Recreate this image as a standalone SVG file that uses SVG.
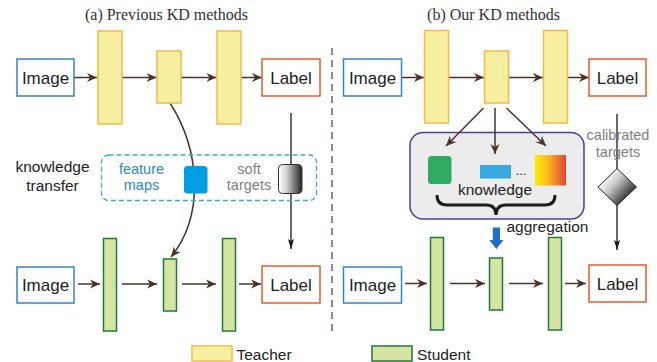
<svg xmlns="http://www.w3.org/2000/svg" width="657" height="362" viewBox="0 0 657 362">
<defs>
<marker id="ab" markerWidth="11" markerHeight="10" refX="10" refY="5" orient="auto" markerUnits="userSpaceOnUse"><path d="M0,0.5 L10,5 L0,9.5 L3,5 z" fill="#4a3428"/></marker>
<marker id="ak" markerWidth="11" markerHeight="8" refX="10" refY="4" orient="auto" markerUnits="userSpaceOnUse"><path d="M0,1 L10,4 L0,7 L2,4 z" fill="#1a1a1a"/></marker>
<linearGradient id="gbw" x1="0" y1="0" x2="1" y2="0"><stop offset="0" stop-color="#ffffff"/><stop offset="0.35" stop-color="#d0d0d0"/><stop offset="1" stop-color="#222222"/></linearGradient>
<linearGradient id="gd" x1="0.2" y1="0.2" x2="0.9" y2="0.8"><stop offset="0" stop-color="#ffffff"/><stop offset="0.35" stop-color="#c8c8c8"/><stop offset="1" stop-color="#111111"/></linearGradient>
<linearGradient id="gyr" x1="0" y1="0" x2="1" y2="0"><stop offset="0" stop-color="#ffee00"/><stop offset="0.45" stop-color="#f9b420"/><stop offset="1" stop-color="#e6403a"/></linearGradient>
</defs>
<style>
.t{fill:#f7f0a2;stroke:#f6b94a;stroke-width:1.5}
.s{fill:#d5e4a2;stroke:#1f7a3c;stroke-width:1.5}
.img{fill:#fff;stroke:#3a82c4;stroke-width:1.5}
.lbl{fill:#fff;stroke:#ec5a2d;stroke-width:1.5}
.tx{font-family:"Liberation Sans",Arial,sans-serif;fill:#222}
.big{font-size:17px}
.mid{font-size:15.5px}
.ttl{font-family:"Liberation Serif","Times New Roman",serif;font-size:16px;fill:#333}
.a{stroke:#4a3428;stroke-width:1.5;fill:none;marker-end:url(#ab)}
.k{stroke:#1a1a1a;stroke-width:1.3;fill:none;marker-end:url(#ak)}
.gray{fill:#7f7f7f}
</style>

<text class="ttl" x="166.5" y="20" text-anchor="middle">(a) Previous KD methods</text>
<text class="ttl" x="493.5" y="20" text-anchor="middle">(b) Our KD methods</text>

<line x1="332" y1="48" x2="332" y2="331" stroke="#5a4a40" stroke-width="1.3" stroke-dasharray="7,5"/>

<g id="connectors">
<line class="a" x1="74" y1="77.5" x2="97" y2="77.5"/>
<line class="a" x1="122" y1="77.5" x2="156.5" y2="77.5"/>
<line class="a" x1="181" y1="77.5" x2="216.5" y2="77.5"/>
<line class="a" x1="241" y1="77.5" x2="262" y2="77.5"/>
<line class="a" x1="78" y1="284" x2="100" y2="284"/>
<line class="a" x1="122" y1="284" x2="157" y2="284"/>
<line class="a" x1="182" y1="284" x2="216" y2="284"/>
<line class="a" x1="239" y1="284" x2="261" y2="284"/>
<path class="a" d="M170,103 C200,150 205,215 171,257"/>
<line class="k" x1="291" y1="113" x2="291" y2="249"/>

<line class="a" x1="402" y1="77.5" x2="424" y2="77.5"/>
<line class="a" x1="449" y1="77.5" x2="484" y2="77.5"/>
<line class="a" x1="508" y1="77.5" x2="543" y2="77.5"/>
<line class="a" x1="567" y1="77.5" x2="589" y2="77.5"/>
<line class="a" x1="405" y1="283.5" x2="427" y2="283.5"/>
<line class="a" x1="450" y1="283.5" x2="485" y2="283.5"/>
<line class="a" x1="509" y1="283.5" x2="543" y2="283.5"/>
<line class="a" x1="565" y1="283.5" x2="586" y2="283.5"/>
<line class="k" x1="617" y1="114" x2="617" y2="250"/>
</g>

<g id="a-image-t"><rect class="img" x="17" y="59" width="57" height="37"/><text class="tx big" x="45.5" y="83.5" text-anchor="middle">Image</text></g>
<g id="a-t1"><rect class="t" x="98" y="31" width="24" height="93"/></g>
<g id="a-t2"><rect class="t" x="157" y="51" width="24" height="52"/></g>
<g id="a-t3"><rect class="t" x="217" y="31" width="24" height="93"/></g>
<g id="a-label-t"><rect class="lbl" x="262" y="59" width="58" height="37"/><text class="tx big" x="291" y="84" text-anchor="middle">Label</text></g>

<g id="a-transfer">
<text class="tx mid" x="52.5" y="172" text-anchor="middle">knowledge</text>
<text class="tx mid" x="52.5" y="190.5" text-anchor="middle">transfer</text>
<rect x="101.5" y="155" width="215" height="45.5" rx="7" fill="none" stroke="#3aa8dc" stroke-width="1.3" stroke-dasharray="5,3"/>
<text class="tx" x="141.5" y="173.5" text-anchor="middle" font-size="14.5" style="fill:#2f86c8">feature</text>
<text class="tx" x="141.5" y="189.5" text-anchor="middle" font-size="14.5" style="fill:#2f86c8">maps</text>
<rect x="184" y="166" width="23.5" height="27.5" rx="3.5" fill="#009fe3"/>
<text class="tx gray" x="249" y="173.5" text-anchor="middle" font-size="14.5">soft</text>
<text class="tx gray" x="249" y="189.5" text-anchor="middle" font-size="14.5">targets</text>
<rect x="278.5" y="164.5" width="23.5" height="29" rx="4" fill="url(#gbw)" stroke="#333" stroke-width="1"/>
</g>

<g id="a-image-s"><rect class="img" x="17" y="267" width="57" height="36"/><text class="tx big" x="45.5" y="291" text-anchor="middle">Image</text></g>
<g id="a-s1"><rect class="s" x="103.5" y="238.5" width="13" height="92.5"/></g>
<g id="a-s2"><rect class="s" x="163.5" y="259" width="13" height="52"/></g>
<g id="a-s3"><rect class="s" x="222.5" y="238.5" width="13" height="92.5"/></g>
<g id="a-label-s"><rect class="lbl" x="262" y="266" width="58" height="37"/><text class="tx big" x="291" y="291" text-anchor="middle">Label</text></g>

<g id="b-image-t"><rect class="img" x="343.5" y="59" width="58" height="37"/><text class="tx big" x="372.5" y="83.5" text-anchor="middle">Image</text></g>
<g id="b-t1"><rect class="t" x="424.5" y="30.5" width="24" height="92.5"/></g>
<g id="b-t2"><rect class="t" x="484.5" y="51" width="24" height="52"/></g>
<g id="b-t3"><rect class="t" x="543.5" y="30.5" width="24" height="92.5"/></g>
<g id="b-label-t"><rect class="lbl" x="589" y="59" width="57" height="37"/><text class="tx big" x="617.5" y="84" text-anchor="middle">Label</text></g>

<g id="b-aggregation">
<rect x="410" y="132.5" width="174" height="86.5" rx="13" fill="#ececec" stroke="#4b3f9b" stroke-width="1.5"/>
<line class="a" x1="483.5" y1="108" x2="446" y2="146"/>
<line class="a" x1="495" y1="108" x2="495" y2="154"/>
<line class="a" x1="506.5" y1="108" x2="546" y2="146"/>
<rect x="428" y="156" width="23.5" height="28" rx="3.5" fill="#2faa62"/>
<rect x="480" y="165" width="31" height="13.5" fill="#35a8e0"/>
<text class="tx" x="521" y="175" text-anchor="middle" font-size="13">...</text>
<rect x="535" y="155" width="31" height="30.5" fill="url(#gyr)"/>
<text class="tx mid" x="495" y="195" text-anchor="middle">knowledge</text>
<path d="M437,195 Q437,205 447,205 L486,205 Q496,205 496,215 Q496,205 506,205 L545,205 Q555,205 555,195" fill="none" stroke="#1e1e1e" stroke-width="3"/>
<path d="M492.8,227.5 L500,227.5 L500,240 L503.5,240 L496.4,249 L489.3,240 L492.8,240 z" fill="#1f6fc0"/>
<text class="tx mid" x="506.5" y="231.5">aggregation</text>
</g>

<g id="b-calibrated">
<text class="tx gray" x="618" y="139.5" text-anchor="middle" font-size="14.5">calibrated</text>
<text class="tx gray" x="618" y="156.5" text-anchor="middle" font-size="14.5">targets</text>
<path d="M617,168.5 L636.5,187 L617,205.5 L598,187 z" fill="url(#gd)" stroke="#222" stroke-width="1"/>
</g>

<g id="b-image-s"><rect class="img" x="343.5" y="267" width="58" height="36"/><text class="tx big" x="372.5" y="291" text-anchor="middle">Image</text></g>
<g id="b-s1"><rect class="s" x="430.5" y="237.5" width="13" height="92.5"/></g>
<g id="b-s2"><rect class="s" x="489.5" y="258" width="13" height="52"/></g>
<g id="b-s3"><rect class="s" x="548.5" y="237.5" width="13" height="92.5"/></g>
<g id="b-label-s"><rect class="lbl" x="589" y="265" width="57" height="37"/><text class="tx big" x="617.5" y="290" text-anchor="middle">Label</text></g>

<g id="legend-teacher"><rect class="t" x="192" y="346" width="40" height="15"/><text class="tx mid" x="236.5" y="359.5">Teacher</text></g>
<g id="legend-student"><rect class="s" x="372" y="346" width="40" height="15"/><text class="tx mid" x="417" y="359.5">Student</text></g>
</svg>
